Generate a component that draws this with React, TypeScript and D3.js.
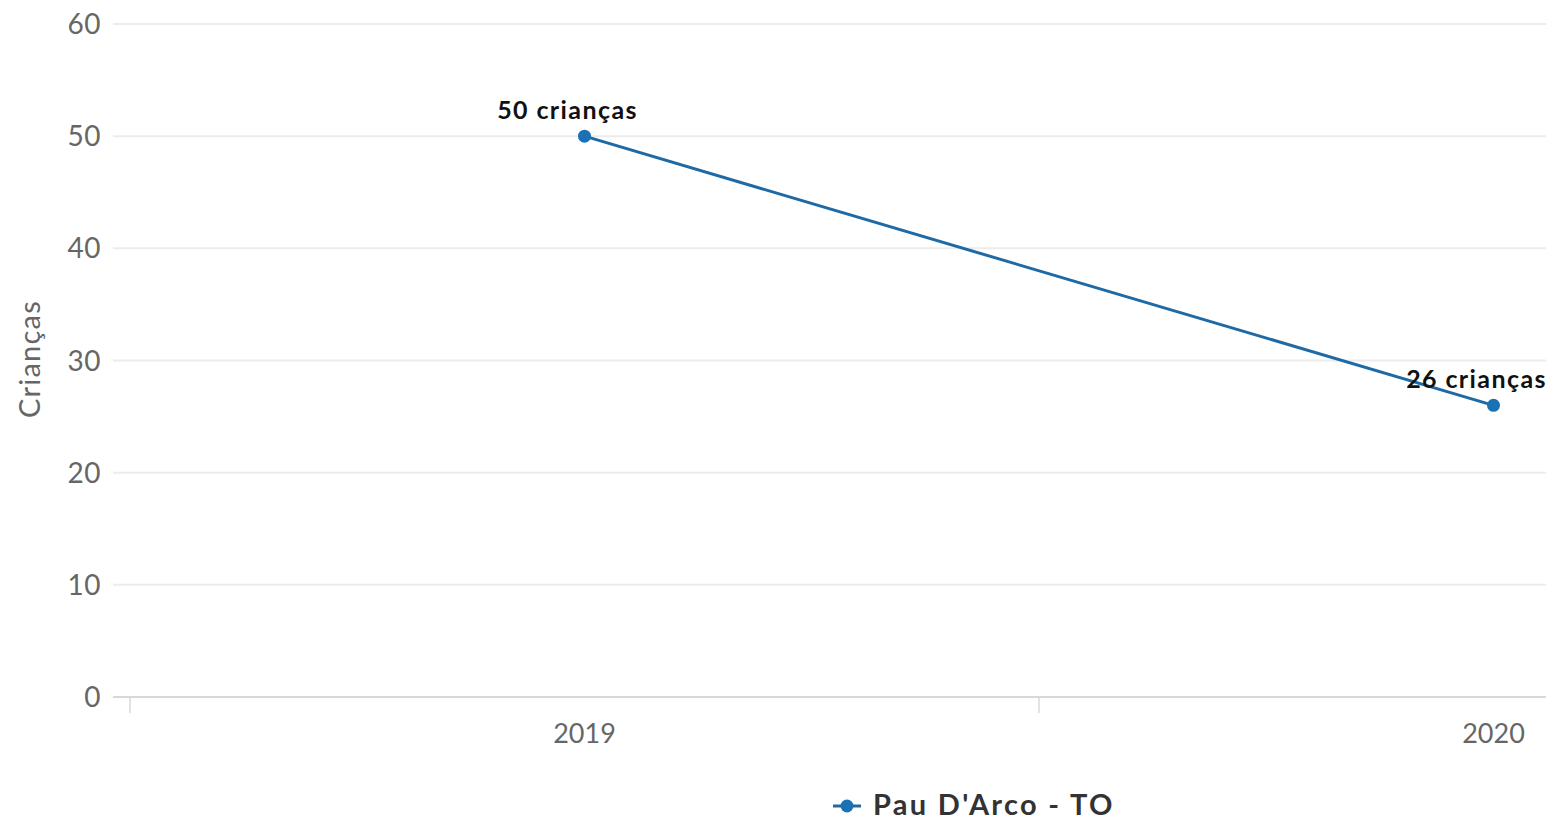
import React from "react";
import * as d3 from "d3";

const categories = ["2019", "2020"];
const values = [50, 26];
const yTicks = [0, 10, 20, 30, 40, 50, 60];
const seriesName = "Pau D'Arco - TO";
const unit = "crianças";

export default function App() {
  const W = 1546, H = 820;
  const x = d3.scaleBand<string>().domain(categories).range([130, 1948]).padding(0);
  const y = d3.scaleLinear().domain([0, 60]).range([697, 24]);
  const cx = (c: string) => (x(c) as number) + x.bandwidth() / 2;
  const line = d3.line<number>().x((_, i) => cx(categories[i])).y((d) => y(d));
  const font = "Lato, 'Open Sans', sans-serif";
  const color = "#1f6aa5";
  const tickPos = categories.map((c) => x(c) as number);
  return (
    <svg width={W} height={H} style={{ position: "absolute", left: 0, top: 0, background: "#fff" }} fontFamily={font}>
      {yTicks.map((t) => (
        <g key={t}>
          {t !== 0 && <line x1={113} x2={W} y1={y(t)} y2={y(t)} stroke="#ececec" strokeWidth={2} />}
          <text x={101} y={y(t)} dy="0.36em" textAnchor="end" fontSize={28} letterSpacing={0.5} fill="#666">{t}</text>
        </g>
      ))}
      <line x1={113} x2={W} y1={y(0)} y2={y(0)} stroke="#d8d8d8" strokeWidth={2} />
      {tickPos.map((p, i) => (
        <line key={i} x1={p} x2={p} y1={y(0)} y2={y(0) + 16} stroke="#d8d8d8" strokeWidth={1.5} />
      ))}
      {categories.map((c) => (
        <text key={c} x={cx(c)} y={733} dy="0.36em" textAnchor="middle" fontSize={27} fill="#666">{c}</text>
      ))}
      <text transform={`translate(30,359) rotate(-90)`} dy="0.36em" textAnchor="middle" fontSize={29} letterSpacing={1.2} fill="#666">Crianças</text>
      <path d={line(values) || ""} fill="none" stroke={color} strokeWidth={3} />
      {values.map((v, i) => (
        <circle key={i} cx={cx(categories[i])} cy={y(v)} r={6.5} fill="#1a72b5" />
      ))}
      {values.map((v, i) => (
        <text key={"l" + i} x={cx(categories[i]) - 17} y={y(v) - 17} textAnchor="middle" fontSize={25} letterSpacing={1.4} fontWeight="bold" fill="#111">{`${v} ${unit}`}</text>
      ))}
      <g>
        <line x1={833} x2={861} y1={806} y2={806} stroke={color} strokeWidth={3} />
        <circle cx={847} cy={806} r={6.5} fill="#1a72b5" />
        <text x={873} y={805} dy="0.36em" fontSize={29} letterSpacing={2.3} fontWeight="bold" fill="#333">{seriesName}</text>
      </g>
    </svg>
  );
}
